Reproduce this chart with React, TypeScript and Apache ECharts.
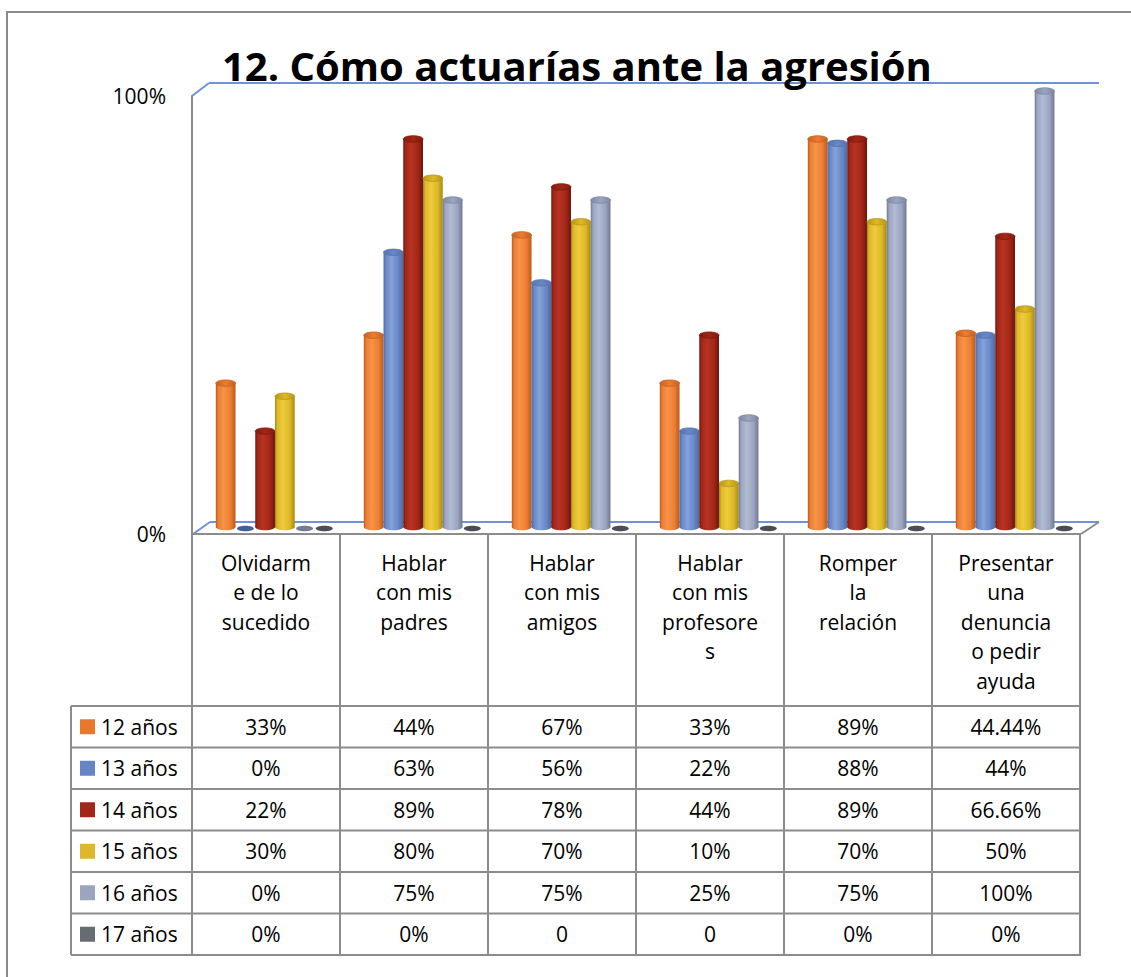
import React, { useEffect, useRef } from "react";
import * as echarts from "echarts";

const categories = [
  "Olvidarm\ne de lo\nsucedido",
  "Hablar\ncon mis\npadres",
  "Hablar\ncon mis\namigos",
  "Hablar\ncon mis\nprofesore\ns",
  "Romper\nla\nrelación",
  "Presentar\nuna\ndenuncia\no pedir\nayuda",
];

const seriesNames = ["12 años", "13 años", "14 años", "15 años", "16 años", "17 años"];

const values12 = [33, 44, 67, 33, 89, 44.44];
const values13 = [0, 63, 56, 22, 88, 44];
const values14 = [22, 89, 78, 44, 89, 66.66];
const values15 = [30, 80, 70, 10, 70, 50];
const values16 = [0, 75, 75, 25, 75, 100];
const values17 = [0, 0, 0, 0, 0, 0];
const seriesValues = [values12, values13, values14, values15, values16, values17];

const labels12 = ["33%", "44%", "67%", "33%", "89%", "44.44%"];
const labels13 = ["0%", "63%", "56%", "22%", "88%", "44%"];
const labels14 = ["22%", "89%", "78%", "44%", "89%", "66.66%"];
const labels15 = ["30%", "80%", "70%", "10%", "70%", "50%"];
const labels16 = ["0%", "75%", "75%", "25%", "75%", "100%"];
const labels17 = ["0%", "0%", "0", "0", "0%", "0%"];
const tableLabels = [labels12, labels13, labels14, labels15, labels16, labels17];

const yTicks = [0, 100];

const legendColors = ["#E8782F", "#6585C5", "#A22716", "#DCB82A", "#9BA5C0", "#676B74"];
const palettes = [
  { edge: "#B85A1E", light: "#F7934A", base: "#ED7D31", top: "#C6601F", disk: "#B0541A" },
  { edge: "#4A6AA6", light: "#84A2DA", base: "#6787C6", top: "#5573B0", disk: "#41609A" },
  { edge: "#6E150B", light: "#B73222", base: "#A22716", top: "#821A0F", disk: "#6E150B" },
  { edge: "#A8880F", light: "#EDCB3C", base: "#DDB927", top: "#B8961A", disk: "#A8880F" },
  { edge: "#6F7890", light: "#B2BBD2", base: "#9BA5C0", top: "#7F88A0", disk: "#737C94" },
  { edge: "#45484F", light: "#7A7E88", base: "#676B74", top: "#50535A", disk: "#4A4D55" },
];

const FONT = "'Open Sans', 'Noto Sans', sans-serif";
const FS = 21;

export default function App() {
  const ref = useRef<HTMLDivElement>(null);

  useEffect(() => {
    if (!ref.current) return;
    const chart = echarts.init(ref.current, null, { renderer: "svg" });

    const colX = [192, 340, 488, 636, 784, 932, 1080];
    const rowY = [706, 747.5, 789, 830.5, 872, 913.5, 955];
    const gridColor = "#8C8C8C";
    const blue = "#6E93D6";

    const graphics: any[] = [];
    graphics.push({
      type: "rect",
      shape: { x: 7, y: 12, width: 1200, height: 1100 },
      style: { fill: "none", stroke: "#8A8A8A", lineWidth: 2 },
      silent: true,
    });
    const ln = (x1: number, y1: number, x2: number, y2: number, c: string, w = 2) =>
      graphics.push({ type: "line", shape: { x1, y1, x2, y2 }, style: { stroke: c, lineWidth: w }, silent: true });
    ln(192, 96, 209, 83, blue);
    ln(209, 83, 1099, 83, blue);
    ln(193, 534, 210, 522, blue);
    ln(210, 522, 1099, 522, blue);
    ln(1081, 534, 1099, 522, gridColor);

    ln(192, 534, 1081, 534, gridColor);
    colX.forEach((x) => ln(x, 534, x, 955, gridColor));
    ln(71, 706, 71, 955, gridColor);
    rowY.forEach((y) => ln(71, y, 1081, y, gridColor));

    categories.forEach((c, i) => {
      graphics.push({
        type: "text",
        style: {
          text: c,
          x: (colX[i] + colX[i + 1]) / 2,
          y: 548,
          align: "center",
          verticalAlign: "top",
          fontSize: FS,
          lineHeight: 29.5,
          fontFamily: FONT,
          fill: "#000",
        },
        silent: true,
      });
    });

    seriesNames.forEach((name, r) => {
      const cy = (rowY[r] + rowY[r + 1]) / 2;
      graphics.push({
        type: "rect",
        shape: { x: 80, y: cy - 7.5, width: 15, height: 15 },
        style: { fill: legendColors[r] },
        silent: true,
      });
      graphics.push({
        type: "text",
        style: { text: name, x: 101, y: cy, align: "left", verticalAlign: "middle", fontSize: FS, fontFamily: FONT, fill: "#000" },
        silent: true,
      });
      tableLabels[r].forEach((t, i) => {
        graphics.push({
          type: "text",
          style: {
            text: t,
            x: (colX[i] + colX[i + 1]) / 2,
            y: cy,
            align: "center",
            verticalAlign: "middle",
            fontSize: FS,
            fontFamily: FONT,
            fill: "#000",
          },
          silent: true,
        });
      });
    });

    graphics.push({
      type: "text",
      style: {
        text: "12. Cómo actuarías ante la agresión",
        x: 222,
        y: 85,
        align: "left",
        verticalAlign: "bottom",
        fontSize: 40,
        fontWeight: "bold",
        fontFamily: FONT,
        fill: "#000",
      },
      silent: true,
    });

    const series = seriesNames.map((name, s) => ({
      type: "custom",
      name,
      xAxisIndex: 0,
      yAxisIndex: 0,
      clip: false,
      z: 5,
      data: seriesValues[s].map((v, i) => [i, v]),
      encode: { x: 0, y: 1 },
      renderItem: (params: any, api: any) => {
        const cat = api.value(0);
        const val = api.value(1);
        const base = api.coord([cat, 0]);
        const top = api.coord([cat, val]);
        const band = api.size([1, 0])[0];
        const groupW = band * 0.8;
        const bw = groupW / 6;
        const x0 = base[0] - groupW / 2 + s * bw;
        const cx = x0 + bw / 2;
        const p = palettes[s];
        const ry = 3.2;
        if (val <= 0) {
          return {
            type: "ellipse",
            shape: { cx, cy: base[1] + 1.5, rx: bw * 0.43, ry: 2.8 },
            style: { fill: p.disk },
          };
        }
        const grad = new echarts.graphic.LinearGradient(0, 0, 1, 0, [
          { offset: 0, color: p.edge },
          { offset: 0.12, color: p.base },
          { offset: 0.4, color: p.light },
          { offset: 0.75, color: p.base },
          { offset: 1, color: p.edge },
        ]);
        return {
          type: "group",
          children: [
            { type: "ellipse", shape: { cx, cy: base[1], rx: bw / 2, ry }, style: { fill: grad } },
            { type: "rect", shape: { x: x0, y: top[1], width: bw, height: base[1] - top[1] }, style: { fill: grad } },
            {
              type: "ellipse",
              shape: { cx, cy: top[1], rx: bw / 2, ry },
              style: {
                fill: new echarts.graphic.LinearGradient(0, 0, 1, 0, [
                  { offset: 0, color: p.top },
                  { offset: 0.5, color: p.base },
                  { offset: 1, color: p.top },
                ]),
                stroke: p.top,
                lineWidth: 0.8,
              },
            },
          ],
        };
      },
    }));

    chart.setOption({
      animation: false,
      backgroundColor: "#ffffff",
      grid: [
        { left: 201, top: 91, width: 888, height: 436 },
        { left: 192, top: 96, width: 889, height: 438 },
      ],
      xAxis: [
        { type: "category", gridIndex: 0, data: categories, show: false },
        { type: "category", gridIndex: 1, data: categories, show: false },
      ],
      yAxis: [
        { type: "value", gridIndex: 0, min: 0, max: 100, show: false },
        {
          type: "value",
          gridIndex: 1,
          min: yTicks[0],
          max: yTicks[1],
          interval: 100,
          splitLine: { show: false },
          axisTick: { show: false },
          axisLine: { show: true, lineStyle: { color: "#8C8C8C", width: 2 } },
          axisLabel: {
            formatter: (v: number) => v + "%",
            fontSize: FS,
            fontFamily: FONT,
            color: "#000",
            margin: 26,
            padding: [6, 0, 0, 0],
          },
        },
      ],
      graphic: graphics,
      series,
    });

    return () => chart.dispose();
  }, []);

  return (
    <div
      ref={ref}
      style={{ position: "absolute", left: 0, top: 0, width: 1131, height: 977, background: "#fff" }}
    />
  );
}
